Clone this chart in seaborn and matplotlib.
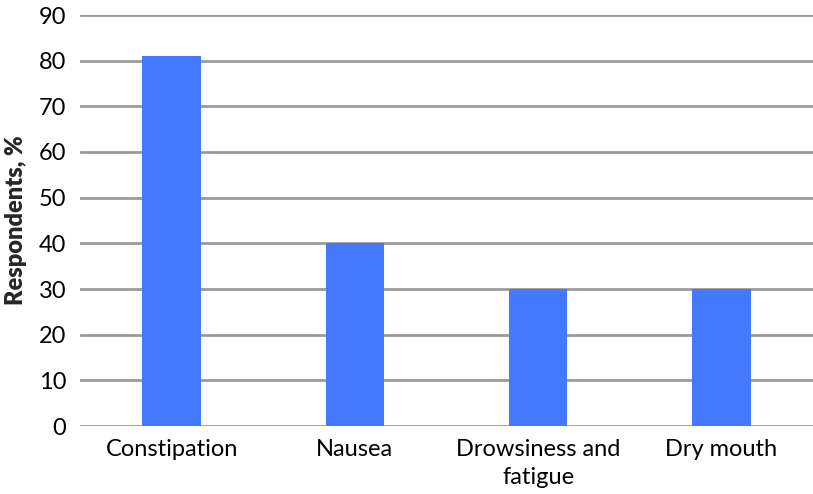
import matplotlib
matplotlib.use("Agg")
import matplotlib.pyplot as plt
import seaborn as sns
import pandas as pd

# Datos del gráfico
sintomas = ["Constipation", "Nausea", "Drowsiness and\nfatigue", "Dry mouth"]
porcentajes = [81, 40, 30, 30]
ticks_y = [0, 10, 20, 30, 40, 50, 60, 70, 80, 90]

df = pd.DataFrame({"sintoma": sintomas, "porcentaje": porcentajes})

sns.set_style("white")
plt.rcParams["font.family"] = ["Lato", "DejaVu Sans"]

fig = plt.figure(figsize=(8.13, 4.94), dpi=100)
ax = fig.add_axes([80 / 813, 1 - 426 / 494, 733 / 813, 411 / 494])

sns.barplot(data=df, x="sintoma", y="porcentaje", color="#4479FF",
            saturation=1, width=0.32, linewidth=0, ax=ax)
for barra in ax.patches:
    barra.set_zorder(3)

ax.set_ylim(0, 90)
ax.set_yticks(ticks_y)
ax.yaxis.grid(True, color="#9a9a9a", linewidth=2, zorder=0)
ax.set_axisbelow(True)
for s in ax.spines.values():
    s.set_visible(False)
ax.tick_params(axis="both", length=0, labelsize=17, colors="black")
ax.tick_params(axis="y", pad=10)
ax.tick_params(axis="x", pad=9)
for etiqueta in ax.get_xticklabels():
    etiqueta.set_linespacing(1.45)
ax.set_xlabel("")
ax.set_ylabel("Respondents, %", fontsize=17, fontweight="heavy", labelpad=8)

plt.savefig("out.png", dpi=100)
plt.close()
